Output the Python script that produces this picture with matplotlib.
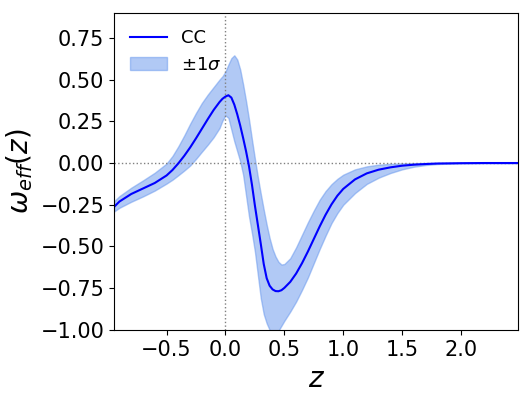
import numpy as np
import matplotlib
matplotlib.use("Agg")
import matplotlib.pyplot as plt

# redshift grid
z = [-0.945, -0.9, -0.8, -0.7, -0.6, -0.5, -0.45, -0.4, -0.35, -0.3,
     -0.25, -0.2, -0.15, -0.1, -0.05, -0.025, 0.0, 0.025, 0.05, 0.075,
     0.1, 0.125, 0.15, 0.175, 0.2, 0.225, 0.25, 0.275, 0.3, 0.325,
     0.35, 0.375, 0.4, 0.425, 0.45, 0.475, 0.5, 0.55, 0.6, 0.65,
     0.7, 0.75, 0.8, 0.85, 0.9, 0.95, 1.0, 1.1, 1.2, 1.3,
     1.4, 1.5, 1.6, 1.7, 1.8, 2.0, 2.2, 2.486]

# best fit w_eff(z)
w_cc = [-0.262, -0.2305, -0.1855, -0.1525, -0.1195, -0.0745, -0.042, -0.002, 0.043, 0.093,
        0.148, 0.2055, 0.263, 0.318, 0.3655, 0.385, 0.398, 0.406, 0.392, 0.350,
        0.292, 0.225, 0.15, 0.07, -0.02, -0.13, -0.255, -0.37, -0.485, -0.605,
        -0.69, -0.735, -0.757, -0.767, -0.768, -0.762, -0.748, -0.712, -0.662, -0.600,
        -0.530, -0.455, -0.380, -0.310, -0.248, -0.196, -0.155, -0.098, -0.062, -0.040,
        -0.026, -0.016, -0.010, -0.006, -0.003, -0.001, 0.0, 0.0]

# +1 sigma
w_up = [-0.228, -0.198, -0.148, -0.104, -0.058, -0.003, 0.042, 0.10, 0.165, 0.235,
        0.30, 0.36, 0.41, 0.455, 0.50, 0.52, 0.548, 0.59, 0.628, 0.645,
        0.62, 0.56, 0.47, 0.37, 0.26, 0.14, 0.025, -0.085, -0.185, -0.28,
        -0.37, -0.45, -0.515, -0.56, -0.592, -0.608, -0.605, -0.57, -0.505, -0.43,
        -0.355, -0.285, -0.22, -0.168, -0.127, -0.095, -0.07, -0.038, -0.02, -0.01,
        -0.005, -0.002, -0.001, 0.0, 0.0, 0.0, 0.0, 0.0]

# -1 sigma
w_lo = [-0.29, -0.268, -0.232, -0.20, -0.165, -0.123, -0.10, -0.073, -0.045, -0.015,
        0.025, 0.068, 0.11, 0.155, 0.21, 0.255, 0.285, 0.27, 0.20, 0.13,
        0.07, 0.01, -0.07, -0.195, -0.32, -0.42, -0.53, -0.67, -0.81, -0.905,
        -0.96, -1.0, -1.025, -1.03, -1.005, -0.975, -0.945, -0.89, -0.83, -0.76,
        -0.685, -0.60, -0.515, -0.435, -0.36, -0.30, -0.25, -0.18, -0.125, -0.088,
        -0.06, -0.038, -0.022, -0.012, -0.006, -0.001, 0.0, 0.0]

fig = plt.figure(figsize=(5.31, 3.99), dpi=100)
ax = fig.add_axes([0.215, 0.173, 0.761, 0.795])

ax.axhline(0, color="gray", linestyle=":", linewidth=1)
ax.axvline(0, color="gray", linestyle=":", linewidth=1)

band = ax.fill_between(z, w_lo, w_up, color="cornflowerblue", alpha=0.5, label=r"$\pm1\sigma$")
line, = ax.plot(z, w_cc, color="blue", linewidth=1.5, label="CC")

ax.set_xlim(-0.945, 2.486)
ax.set_ylim(-1.0, 0.9)
ax.set_xticks([-0.5, 0.0, 0.5, 1.0, 1.5, 2.0])
ax.set_yticks([-1.0, -0.75, -0.5, -0.25, 0.0, 0.25, 0.5, 0.75])
ax.tick_params(labelsize=15)

ax.set_xlabel(r"$z$", fontsize=20)
ax.set_ylabel(r"$\omega_{eff}(z)$", fontsize=20)

ax.legend(handles=[line, band], loc="upper left", frameon=False, fontsize=13)

fig.savefig("out.png", dpi=100)
